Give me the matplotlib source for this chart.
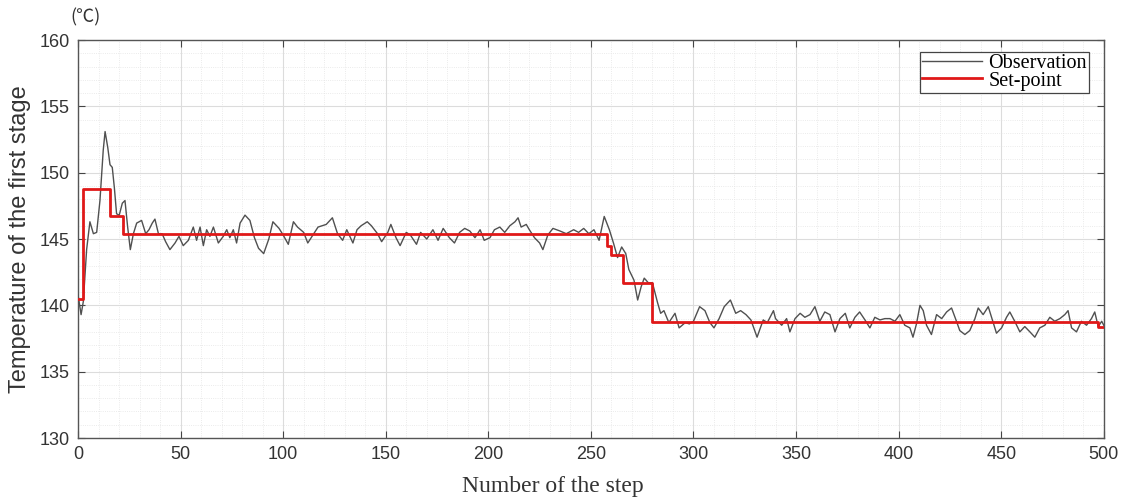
import matplotlib
matplotlib.use("Agg")
import matplotlib.pyplot as plt
from matplotlib.ticker import MultipleLocator

# ---- data ----
obs_steps = [0, 1.5, 2.6, 4.2, 5.8, 7.5, 9.1, 10.7, 12.3, 13.2, 14.5, 15.6, 16.7, 17.7, 18.8, 20.1,
             21.6, 22.9, 24.2, 25.5, 27, 28.6, 31, 33, 34.6, 36.2, 37.5, 39.2, 41, 42.7, 44.8, 47.3,
             49.2, 51.3, 53.8, 56.2, 57.8, 59.5, 61.1, 62.7, 64.3, 66, 68.4, 70.8, 72.5, 74, 75.7,
             77.3, 79, 81.4, 83.8, 86, 88, 90.5, 93, 95, 98, 100, 102.5, 105, 107, 110, 112, 114.5,
             117, 119, 121, 124, 126.5, 129, 131, 134, 136, 138, 141, 143, 146, 148, 151, 152.5,
             155, 157, 160, 162, 165, 167, 170, 173, 175.5, 178, 181, 183.5, 186, 188.5, 191,
             193.5, 196, 198, 200.8, 203, 205.6, 208, 210.5, 213, 214.5, 216, 218.5, 220, 222.5,
             225, 226.6, 229, 231.5, 235, 238, 241.6, 244, 246.5, 249, 251.5, 254, 256.5, 259,
             261, 263, 265, 267, 268.5, 271, 272.8, 274.5, 276, 278, 280, 282.5, 284, 285.6, 288,
             291, 293, 296, 298, 300, 303, 305.6, 308, 310, 312.5, 315, 318, 320.6, 323, 325.6,
             328, 331, 334, 336, 339, 340, 343, 345.4, 347, 349.5, 352, 354.3, 356.8, 359.2,
             361.6, 364, 366.5, 369, 371.4, 374, 376.2, 378.7, 381, 383.6, 386, 388.4, 390.9,
             393.3, 395.8, 398.2, 400.6, 403, 405.5, 407, 408.7, 410.4, 412, 413.6, 416, 418.5,
             421, 423.4, 425.8, 428.2, 429.8, 432.3, 434.7, 437.2, 438.8, 441.2, 443.7, 445.3,
             447.7, 450.2, 452.6, 454.2, 456.6, 459.1, 461.5, 464, 466.4, 468.8, 471.3, 473.7,
             476.1, 478.6, 481, 482.6, 484.3, 486.7, 489.1, 491.6, 494, 495.6, 497.3, 499, 500]
obs_values = [140.8, 139.3, 140.3, 144.2, 146.3, 145.4, 145.5, 147.9, 151.7, 153.1, 151.9, 150.6,
              150.4, 148.9, 146.9, 146.8, 147.7, 147.9, 145.9, 144.2, 145.4, 146.2, 146.4, 145.4,
              145.7, 146.2, 146.5, 145.4, 145.4, 144.8, 144.2, 144.7, 145.2, 144.5, 144.9, 145.9,
              144.9, 145.9, 144.5, 145.7, 145.2, 145.9, 144.7, 145.2, 145.7, 145.1, 145.7, 144.7,
              146.2, 146.8, 146.4, 145.1, 144.3, 143.9, 145.0, 146.3, 145.8, 145.3, 144.6, 146.3,
              145.9, 145.5, 144.7, 145.3, 145.9, 146.0, 146.1, 146.6, 145.4, 144.9, 145.7, 144.7,
              145.7, 146.0, 146.3, 146.0, 145.4, 144.8, 145.5, 146.1, 145.1, 144.5, 145.5, 145.3,
              144.6, 145.5, 145.0, 145.7, 144.9, 145.8, 145.1, 144.7, 145.5, 145.8, 145.6, 145.1,
              145.7, 144.9, 145.1, 145.7, 145.9, 145.5, 146.0, 146.3, 146.6, 145.9, 146.1, 145.7,
              145.1, 144.7, 144.2, 145.3, 145.8, 145.6, 145.4, 145.7, 145.5, 145.8, 145.4, 145.7,
              144.9, 146.7, 145.7, 144.7, 143.6, 144.4, 143.9, 142.7, 141.9, 140.4, 141.4, 142.05,
              141.7, 141.7, 140.2, 139.4, 139.6, 138.7, 139.4, 138.3, 138.7, 138.6, 138.8, 139.9,
              139.6, 138.7, 138.3, 139.0, 139.9, 140.4, 139.4, 139.6, 139.3, 138.9, 137.6, 138.9,
              138.7, 139.6, 139.0, 138.5, 139.0, 138.0, 139.0, 139.4, 139.1, 139.3, 139.9, 138.8,
              139.5, 139.3, 138.0, 139.0, 139.4, 138.3, 139.1, 139.5, 138.9, 138.3, 139.1, 138.9,
              139.0, 139.0, 138.8, 139.3, 138.5, 138.3, 137.6, 138.6, 140.0, 139.6, 138.5, 137.8,
              139.3, 139.0, 139.5, 139.8, 138.8, 138.1, 137.8, 138.1, 139.0, 139.8, 139.3, 139.9,
              139.1, 137.9, 138.3, 139.1, 139.5, 138.8, 138.0, 138.4, 138.0, 137.6, 138.3, 138.5,
              139.1, 138.8, 139.0, 139.3, 139.6, 138.3, 138.0, 138.8, 138.5, 139.0, 139.5, 138.4,
              138.8, 138.5]

sp_steps = [0, 2.5, 15.5, 22, 258, 260, 265.5, 280, 497, 500]
sp_values = [140.5, 148.75, 146.7, 145.35, 144.5, 143.8, 141.7, 138.75, 138.4, 138.4]

x_ticks = [0, 50, 100, 150, 200, 250, 300, 350, 400, 450, 500]
y_ticks = [130, 135, 140, 145, 150, 155, 160]

fig = plt.figure(figsize=(11.24, 4.97), dpi=100)
ax = fig.add_axes([0.0694, 0.1187, 0.9126, 0.8008])

ax.plot(obs_steps, obs_values, color="#505050", lw=1.0, label="Observation", zorder=3)
ax.plot(sp_steps, sp_values, color="#e01818", lw=2.0, drawstyle="steps-post",
        label="Set-point", zorder=4)

ax.set_xlim(0, 500)
ax.set_ylim(130, 160)
ax.set_xticks(x_ticks)
ax.set_yticks(y_ticks)
ax.xaxis.set_minor_locator(MultipleLocator(10))
ax.yaxis.set_minor_locator(MultipleLocator(1))
ax.grid(True, which="major", color="#dcdcdc", lw=0.8, ls="-")
ax.grid(True, which="minor", color="#e4e4e4", lw=0.6, ls=":")
ax.set_axisbelow(True)
ax.tick_params(which="major", direction="in", top=True, right=True, length=5,
               width=0.8, color="#444444", labelsize=13, labelcolor="#333333", pad=6)
ax.tick_params(which="minor", length=0)
for lab in ax.get_xticklabels() + ax.get_yticklabels():
    lab.set_fontfamily("Liberation Sans")
for s in ax.spines.values():
    s.set_color("#555555")
    s.set_linewidth(1.0)

ax.set_xlabel("Number of the step", fontfamily="Liberation Serif", fontsize=17,
              color="#333333", labelpad=4)
ax.xaxis.set_label_coords(0.463, -0.095)
ax.set_ylabel("Temperature of the first stage", fontfamily="Liberation Sans", fontsize=17,
              color="#333333", labelpad=6)
fig.text(0.076, 0.966, "(℃)", ha="center", va="center", fontsize=13, color="#333333",
         family=["Noto Sans CJK SC", "DejaVu Sans"])

leg = ax.legend(loc="upper right", bbox_to_anchor=(0.986, 0.970), borderaxespad=0.0,
                frameon=True, fancybox=False, edgecolor="#444444", framealpha=1.0,
                handlelength=3.0, handletextpad=0.3, borderpad=0.12, labelspacing=-0.1,
                prop={"family": "Liberation Serif", "size": 14.5})
leg.get_frame().set_linewidth(0.9)

fig.savefig("out.png", dpi=100)
